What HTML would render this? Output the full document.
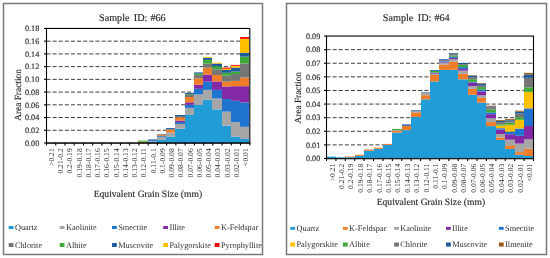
<!DOCTYPE html>
<html><head><meta charset="utf-8"><style>
html,body{margin:0;padding:0;background:#fff;}
body{width:550px;height:258px;overflow:hidden;}
svg{display:block;font-family:"Liberation Serif", serif;will-change:transform;text-rendering:geometricPrecision;}
svg text{fill:#2b2b2b;stroke:#2b2b2b;stroke-width:0.15px;}
svg text.lg{fill:#2e2e2e;stroke:none;}
</style></head><body>
<svg width="550" height="258" viewBox="0 0 550 258">
<rect width="550" height="258" fill="#fff"/>
<rect x="3.5" y="3.5" width="259" height="251" fill="#fff" stroke="#7a7a7a" stroke-width="1.5"/>
<text transform="translate(99.0,20.5)" font-size="10.2">Sample</text>
<text transform="translate(133.8,20.5)" font-size="10.2">ID:</text>
<text transform="translate(150.4,20.5)" font-size="10.2">#66</text>
<line x1="46.5" y1="130.27" x2="249.8" y2="130.27" stroke="#3c3c3c" stroke-width="1" stroke-dasharray="4 2.12"/>
<line x1="46.5" y1="117.54" x2="249.8" y2="117.54" stroke="#3c3c3c" stroke-width="1" stroke-dasharray="4 2.12"/>
<line x1="46.5" y1="104.82" x2="249.8" y2="104.82" stroke="#3c3c3c" stroke-width="1" stroke-dasharray="4 2.12"/>
<line x1="46.5" y1="92.09" x2="249.8" y2="92.09" stroke="#3c3c3c" stroke-width="1" stroke-dasharray="4 2.12"/>
<line x1="46.5" y1="79.36" x2="249.8" y2="79.36" stroke="#3c3c3c" stroke-width="1" stroke-dasharray="4 2.12"/>
<line x1="46.5" y1="66.63" x2="249.8" y2="66.63" stroke="#3c3c3c" stroke-width="1" stroke-dasharray="4 2.12"/>
<line x1="46.5" y1="53.91" x2="249.8" y2="53.91" stroke="#3c3c3c" stroke-width="1" stroke-dasharray="4 2.12"/>
<line x1="46.5" y1="41.18" x2="249.8" y2="41.18" stroke="#3c3c3c" stroke-width="1" stroke-dasharray="4 2.12"/>
<rect x="138" y="141.70" width="10" height="1.30" fill="#F07D2A"/>
<rect x="138" y="140.60" width="10" height="1.10" fill="#3DAA3A"/>
<rect x="148" y="142.00" width="9" height="1.00" fill="#229CD7"/>
<rect x="148" y="141.20" width="9" height="0.80" fill="#A6A6A6"/>
<rect x="148" y="140.20" width="9" height="1.00" fill="#1F74D0"/>
<rect x="148" y="139.40" width="9" height="0.80" fill="#1F5C9E"/>
<rect x="157" y="140.00" width="9" height="3.00" fill="#229CD7"/>
<rect x="157" y="136.80" width="9" height="3.20" fill="#A6A6A6"/>
<rect x="157" y="135.90" width="9" height="0.90" fill="#1F74D0"/>
<rect x="157" y="134.90" width="9" height="1.00" fill="#F07D2A"/>
<rect x="157" y="134.30" width="9" height="0.60" fill="#1F5C9E"/>
<rect x="166" y="136.80" width="9" height="6.20" fill="#229CD7"/>
<rect x="166" y="132.30" width="9" height="4.50" fill="#A6A6A6"/>
<rect x="166" y="129.70" width="9" height="2.60" fill="#F07D2A"/>
<rect x="166" y="129.00" width="9" height="0.70" fill="#767676"/>
<rect x="166" y="128.10" width="9" height="0.90" fill="#1F5C9E"/>
<rect x="175" y="128.70" width="10" height="14.30" fill="#229CD7"/>
<rect x="175" y="124.00" width="10" height="4.70" fill="#A6A6A6"/>
<rect x="175" y="122.10" width="10" height="1.90" fill="#1F74D0"/>
<rect x="175" y="120.60" width="10" height="1.50" fill="#8329A6"/>
<rect x="175" y="117.30" width="10" height="3.30" fill="#F07D2A"/>
<rect x="175" y="116.00" width="10" height="1.30" fill="#767676"/>
<rect x="175" y="115.00" width="10" height="1.00" fill="#1F5C9E"/>
<rect x="185" y="115.00" width="9" height="28.00" fill="#229CD7"/>
<rect x="185" y="107.90" width="9" height="7.10" fill="#A6A6A6"/>
<rect x="185" y="104.70" width="9" height="3.20" fill="#1F74D0"/>
<rect x="185" y="102.30" width="9" height="2.40" fill="#8329A6"/>
<rect x="185" y="97.00" width="9" height="5.30" fill="#F07D2A"/>
<rect x="185" y="94.90" width="9" height="2.10" fill="#767676"/>
<rect x="185" y="94.20" width="9" height="0.70" fill="#3DAA3A"/>
<rect x="185" y="92.90" width="9" height="1.30" fill="#1F5C9E"/>
<rect x="194" y="104.90" width="9" height="38.10" fill="#229CD7"/>
<rect x="194" y="94.50" width="9" height="10.40" fill="#A6A6A6"/>
<rect x="194" y="88.80" width="9" height="5.70" fill="#1F74D0"/>
<rect x="194" y="84.80" width="9" height="4.00" fill="#8329A6"/>
<rect x="194" y="78.30" width="9" height="6.50" fill="#F07D2A"/>
<rect x="194" y="75.10" width="9" height="3.20" fill="#767676"/>
<rect x="194" y="73.60" width="9" height="1.50" fill="#3DAA3A"/>
<rect x="194" y="72.40" width="9" height="1.20" fill="#1F5C9E"/>
<rect x="203" y="99.80" width="9" height="43.20" fill="#229CD7"/>
<rect x="203" y="89.90" width="9" height="9.90" fill="#A6A6A6"/>
<rect x="203" y="81.70" width="9" height="8.20" fill="#1F74D0"/>
<rect x="203" y="74.70" width="9" height="7.00" fill="#8329A6"/>
<rect x="203" y="67.70" width="9" height="7.00" fill="#F07D2A"/>
<rect x="203" y="63.60" width="9" height="4.10" fill="#767676"/>
<rect x="203" y="59.90" width="9" height="3.70" fill="#3DAA3A"/>
<rect x="203" y="57.80" width="9" height="2.10" fill="#1F5C9E"/>
<rect x="203" y="56.90" width="9" height="0.90" fill="#FFC000"/>
<rect x="212" y="109.40" width="10" height="33.60" fill="#229CD7"/>
<rect x="212" y="98.50" width="10" height="10.90" fill="#A6A6A6"/>
<rect x="212" y="89.90" width="10" height="8.60" fill="#1F74D0"/>
<rect x="212" y="81.40" width="10" height="8.50" fill="#8329A6"/>
<rect x="212" y="75.00" width="10" height="6.40" fill="#F07D2A"/>
<rect x="212" y="69.30" width="10" height="5.70" fill="#767676"/>
<rect x="212" y="66.30" width="10" height="3.00" fill="#3DAA3A"/>
<rect x="212" y="63.60" width="10" height="2.70" fill="#1F5C9E"/>
<rect x="212" y="62.70" width="10" height="0.90" fill="#FFC000"/>
<rect x="222" y="125.60" width="9" height="17.40" fill="#229CD7"/>
<rect x="222" y="111.60" width="9" height="14.00" fill="#A6A6A6"/>
<rect x="222" y="99.00" width="9" height="12.60" fill="#1F74D0"/>
<rect x="222" y="86.50" width="9" height="12.50" fill="#8329A6"/>
<rect x="222" y="81.60" width="9" height="4.90" fill="#F07D2A"/>
<rect x="222" y="75.70" width="9" height="5.90" fill="#767676"/>
<rect x="222" y="72.80" width="9" height="2.90" fill="#3DAA3A"/>
<rect x="222" y="69.90" width="9" height="2.90" fill="#1F5C9E"/>
<rect x="222" y="68.70" width="9" height="1.20" fill="#FFC000"/>
<rect x="222" y="67.60" width="9" height="1.10" fill="#FF0000"/>
<rect x="231" y="136.70" width="9" height="6.30" fill="#229CD7"/>
<rect x="231" y="122.10" width="9" height="14.60" fill="#A6A6A6"/>
<rect x="231" y="100.80" width="9" height="21.30" fill="#1F74D0"/>
<rect x="231" y="86.20" width="9" height="14.60" fill="#8329A6"/>
<rect x="231" y="80.90" width="9" height="5.30" fill="#F07D2A"/>
<rect x="231" y="74.00" width="9" height="6.90" fill="#767676"/>
<rect x="231" y="71.60" width="9" height="2.40" fill="#3DAA3A"/>
<rect x="231" y="67.60" width="9" height="4.00" fill="#1F5C9E"/>
<rect x="231" y="65.80" width="9" height="1.80" fill="#FFC000"/>
<rect x="231" y="64.90" width="9" height="0.90" fill="#FF0000"/>
<rect x="240" y="139.00" width="9" height="4.00" fill="#229CD7"/>
<rect x="240" y="126.80" width="9" height="12.20" fill="#A6A6A6"/>
<rect x="240" y="102.50" width="9" height="24.30" fill="#1F74D0"/>
<rect x="240" y="86.20" width="9" height="16.30" fill="#8329A6"/>
<rect x="240" y="77.60" width="9" height="8.60" fill="#F07D2A"/>
<rect x="240" y="63.40" width="9" height="14.20" fill="#767676"/>
<rect x="240" y="56.60" width="9" height="6.80" fill="#3DAA3A"/>
<rect x="240" y="52.80" width="9" height="3.80" fill="#1F5C9E"/>
<rect x="240" y="38.80" width="9" height="14.00" fill="#FFC000"/>
<rect x="240" y="37.00" width="9" height="1.80" fill="#FF0000"/>
<rect x="46.5" y="28.45" width="203.3" height="114.55" fill="none" stroke="#000" stroke-width="1.1"/>
<line x1="46.5" y1="143.1" x2="250.3" y2="143.1" stroke="#1c1c1c" stroke-width="1.4"/>
<line x1="44.0" y1="143.00" x2="46.5" y2="143.00" stroke="#000" stroke-width="1.1"/>
<text x="39.3" y="145.80" font-size="8.2" text-anchor="end" fill="#333">0.00</text>
<line x1="44.0" y1="130.27" x2="46.5" y2="130.27" stroke="#000" stroke-width="1.1"/>
<text x="39.3" y="133.07" font-size="8.2" text-anchor="end" fill="#333">0.02</text>
<line x1="44.0" y1="117.54" x2="46.5" y2="117.54" stroke="#000" stroke-width="1.1"/>
<text x="39.3" y="120.34" font-size="8.2" text-anchor="end" fill="#333">0.04</text>
<line x1="44.0" y1="104.82" x2="46.5" y2="104.82" stroke="#000" stroke-width="1.1"/>
<text x="39.3" y="107.62" font-size="8.2" text-anchor="end" fill="#333">0.06</text>
<line x1="44.0" y1="92.09" x2="46.5" y2="92.09" stroke="#000" stroke-width="1.1"/>
<text x="39.3" y="94.89" font-size="8.2" text-anchor="end" fill="#333">0.08</text>
<line x1="44.0" y1="79.36" x2="46.5" y2="79.36" stroke="#000" stroke-width="1.1"/>
<text x="39.3" y="82.16" font-size="8.2" text-anchor="end" fill="#333">0.10</text>
<line x1="44.0" y1="66.63" x2="46.5" y2="66.63" stroke="#000" stroke-width="1.1"/>
<text x="39.3" y="69.43" font-size="8.2" text-anchor="end" fill="#333">0.12</text>
<line x1="44.0" y1="53.91" x2="46.5" y2="53.91" stroke="#000" stroke-width="1.1"/>
<text x="39.3" y="56.71" font-size="8.2" text-anchor="end" fill="#333">0.14</text>
<line x1="44.0" y1="41.18" x2="46.5" y2="41.18" stroke="#000" stroke-width="1.1"/>
<text x="39.3" y="43.98" font-size="8.2" text-anchor="end" fill="#333">0.16</text>
<line x1="44.0" y1="28.45" x2="46.5" y2="28.45" stroke="#000" stroke-width="1.1"/>
<text x="39.3" y="31.25" font-size="8.2" text-anchor="end" fill="#333">0.18</text>
<line x1="46.50" y1="143" x2="46.50" y2="145.5" stroke="#000" stroke-width="1.1"/>
<line x1="55.74" y1="143" x2="55.74" y2="145.5" stroke="#000" stroke-width="1.1"/>
<line x1="64.98" y1="143" x2="64.98" y2="145.5" stroke="#000" stroke-width="1.1"/>
<line x1="74.22" y1="143" x2="74.22" y2="145.5" stroke="#000" stroke-width="1.1"/>
<line x1="83.46" y1="143" x2="83.46" y2="145.5" stroke="#000" stroke-width="1.1"/>
<line x1="92.70" y1="143" x2="92.70" y2="145.5" stroke="#000" stroke-width="1.1"/>
<line x1="101.95" y1="143" x2="101.95" y2="145.5" stroke="#000" stroke-width="1.1"/>
<line x1="111.19" y1="143" x2="111.19" y2="145.5" stroke="#000" stroke-width="1.1"/>
<line x1="120.43" y1="143" x2="120.43" y2="145.5" stroke="#000" stroke-width="1.1"/>
<line x1="129.67" y1="143" x2="129.67" y2="145.5" stroke="#000" stroke-width="1.1"/>
<line x1="138.91" y1="143" x2="138.91" y2="145.5" stroke="#000" stroke-width="1.1"/>
<line x1="148.15" y1="143" x2="148.15" y2="145.5" stroke="#000" stroke-width="1.1"/>
<line x1="157.39" y1="143" x2="157.39" y2="145.5" stroke="#000" stroke-width="1.1"/>
<line x1="166.63" y1="143" x2="166.63" y2="145.5" stroke="#000" stroke-width="1.1"/>
<line x1="175.87" y1="143" x2="175.87" y2="145.5" stroke="#000" stroke-width="1.1"/>
<line x1="185.11" y1="143" x2="185.11" y2="145.5" stroke="#000" stroke-width="1.1"/>
<line x1="194.35" y1="143" x2="194.35" y2="145.5" stroke="#000" stroke-width="1.1"/>
<line x1="203.60" y1="143" x2="203.60" y2="145.5" stroke="#000" stroke-width="1.1"/>
<line x1="212.84" y1="143" x2="212.84" y2="145.5" stroke="#000" stroke-width="1.1"/>
<line x1="222.08" y1="143" x2="222.08" y2="145.5" stroke="#000" stroke-width="1.1"/>
<line x1="231.32" y1="143" x2="231.32" y2="145.5" stroke="#000" stroke-width="1.1"/>
<line x1="240.56" y1="143" x2="240.56" y2="145.5" stroke="#000" stroke-width="1.1"/>
<line x1="249.80" y1="143" x2="249.80" y2="145.5" stroke="#000" stroke-width="1.1"/>
<text transform="translate(53.97,148.3) rotate(-90)" font-size="7.6" text-anchor="end" class="lg">&gt;0.21</text>
<text transform="translate(63.21,148.3) rotate(-90)" font-size="7.6" text-anchor="end" class="lg">0.21-0.2</text>
<text transform="translate(72.45,148.3) rotate(-90)" font-size="7.6" text-anchor="end" class="lg">0.2-0.19</text>
<text transform="translate(81.69,148.3) rotate(-90)" font-size="7.6" text-anchor="end" class="lg">0.19-0.18</text>
<text transform="translate(90.93,148.3) rotate(-90)" font-size="7.6" text-anchor="end" class="lg">0.18-0.17</text>
<text transform="translate(100.17,148.3) rotate(-90)" font-size="7.6" text-anchor="end" class="lg">0.17-0.16</text>
<text transform="translate(109.42,148.3) rotate(-90)" font-size="7.6" text-anchor="end" class="lg">0.16-0.15</text>
<text transform="translate(118.66,148.3) rotate(-90)" font-size="7.6" text-anchor="end" class="lg">0.15-0.14</text>
<text transform="translate(127.90,148.3) rotate(-90)" font-size="7.6" text-anchor="end" class="lg">0.14-0.13</text>
<text transform="translate(137.14,148.3) rotate(-90)" font-size="7.6" text-anchor="end" class="lg">0.13-0.12</text>
<text transform="translate(146.38,148.3) rotate(-90)" font-size="7.6" text-anchor="end" class="lg">0.12-0.11</text>
<text transform="translate(155.62,148.3) rotate(-90)" font-size="7.6" text-anchor="end" class="lg">0.11-0.1</text>
<text transform="translate(164.86,148.3) rotate(-90)" font-size="7.6" text-anchor="end" class="lg">0.1-0.09</text>
<text transform="translate(174.10,148.3) rotate(-90)" font-size="7.6" text-anchor="end" class="lg">0.09-0.08</text>
<text transform="translate(183.34,148.3) rotate(-90)" font-size="7.6" text-anchor="end" class="lg">0.08-0.07</text>
<text transform="translate(192.58,148.3) rotate(-90)" font-size="7.6" text-anchor="end" class="lg">0.07-0.06</text>
<text transform="translate(201.83,148.3) rotate(-90)" font-size="7.6" text-anchor="end" class="lg">0.06-0.05</text>
<text transform="translate(211.07,148.3) rotate(-90)" font-size="7.6" text-anchor="end" class="lg">0.05-0.04</text>
<text transform="translate(220.31,148.3) rotate(-90)" font-size="7.6" text-anchor="end" class="lg">0.04-0.03</text>
<text transform="translate(229.55,148.3) rotate(-90)" font-size="7.6" text-anchor="end" class="lg">0.03-0.02</text>
<text transform="translate(238.79,148.3) rotate(-90)" font-size="7.6" text-anchor="end" class="lg">0.02-0.01</text>
<text transform="translate(248.03,148.3) rotate(-90)" font-size="7.6" text-anchor="end" class="lg">&lt;0.01</text>
<text transform="translate(20.8,95) rotate(-90)" font-size="9.35" text-anchor="middle">Area Fraction</text>
<text x="147.9" y="196.6" font-size="9.6" text-anchor="middle">Equivalent Grain Size (mm)</text>
<rect x="8.70" y="226.00" width="4.8" height="3.0" fill="#229CD7"/>
<text class="lg" x="14.90" y="229.70" font-size="8.3">Quartz</text>
<rect x="59.70" y="226.00" width="4.8" height="3.0" fill="#A6A6A6"/>
<text class="lg" x="65.90" y="229.70" font-size="8.3">Kaolinite</text>
<rect x="112.00" y="226.00" width="4.8" height="3.0" fill="#1F74D0"/>
<text class="lg" x="118.20" y="229.70" font-size="8.3">Smectite</text>
<rect x="163.20" y="226.00" width="4.8" height="3.0" fill="#8329A6"/>
<text class="lg" x="169.40" y="229.70" font-size="8.3">Illite</text>
<rect x="214.70" y="226.00" width="4.8" height="3.0" fill="#F07D2A"/>
<text class="lg" x="220.90" y="229.70" font-size="8.3">K-Feldspar</text>
<rect x="8.70" y="243.00" width="4.8" height="4.0" fill="#767676"/>
<text class="lg" x="14.90" y="247.80" font-size="8.3">Chlorite</text>
<rect x="59.70" y="243.00" width="4.8" height="4.0" fill="#3DAA3A"/>
<text class="lg" x="65.90" y="247.80" font-size="8.3">Albite</text>
<rect x="112.00" y="243.00" width="4.8" height="4.0" fill="#1F5C9E"/>
<text class="lg" x="118.20" y="247.80" font-size="8.3">Muscovite</text>
<rect x="163.20" y="243.00" width="4.8" height="4.0" fill="#FFC000"/>
<text class="lg" x="169.40" y="247.80" font-size="8.3">Palygorskite</text>
<rect x="214.70" y="243.00" width="4.8" height="4.0" fill="#FF0000"/>
<text class="lg" x="220.90" y="247.80" font-size="8.3">Pyrophyllite</text>
<rect x="286.5" y="3.5" width="260" height="251" fill="#fff" stroke="#7a7a7a" stroke-width="1.5"/>
<text transform="translate(382.8,20.5)" font-size="10.2">Sample</text>
<text transform="translate(417.8,20.5)" font-size="10.2">ID:</text>
<text transform="translate(434.4,20.5)" font-size="10.2">#64</text>
<line x1="326.5" y1="144.89" x2="533.5" y2="144.89" stroke="#3c3c3c" stroke-width="1" stroke-dasharray="4 2.12"/>
<line x1="326.5" y1="131.29" x2="533.5" y2="131.29" stroke="#3c3c3c" stroke-width="1" stroke-dasharray="4 2.12"/>
<line x1="326.5" y1="117.68" x2="533.5" y2="117.68" stroke="#3c3c3c" stroke-width="1" stroke-dasharray="4 2.12"/>
<line x1="326.5" y1="104.08" x2="533.5" y2="104.08" stroke="#3c3c3c" stroke-width="1" stroke-dasharray="4 2.12"/>
<line x1="326.5" y1="90.47" x2="533.5" y2="90.47" stroke="#3c3c3c" stroke-width="1" stroke-dasharray="4 2.12"/>
<line x1="326.5" y1="76.87" x2="533.5" y2="76.87" stroke="#3c3c3c" stroke-width="1" stroke-dasharray="4 2.12"/>
<line x1="326.5" y1="63.26" x2="533.5" y2="63.26" stroke="#3c3c3c" stroke-width="1" stroke-dasharray="4 2.12"/>
<line x1="326.5" y1="49.66" x2="533.5" y2="49.66" stroke="#3c3c3c" stroke-width="1" stroke-dasharray="4 2.12"/>
<rect x="326" y="156.60" width="10" height="1.90" fill="#229CD7"/>
<rect x="336" y="157.30" width="9" height="1.20" fill="#229CD7"/>
<rect x="345" y="157.20" width="10" height="1.30" fill="#229CD7"/>
<rect x="345" y="156.50" width="10" height="0.70" fill="#F07D2A"/>
<rect x="355" y="155.90" width="9" height="2.60" fill="#229CD7"/>
<rect x="355" y="154.80" width="9" height="1.10" fill="#F07D2A"/>
<rect x="364" y="150.80" width="10" height="7.70" fill="#229CD7"/>
<rect x="364" y="149.60" width="10" height="1.20" fill="#F07D2A"/>
<rect x="364" y="149.10" width="10" height="0.50" fill="#A6A6A6"/>
<rect x="374" y="148.80" width="9" height="9.70" fill="#229CD7"/>
<rect x="374" y="147.60" width="9" height="1.20" fill="#F07D2A"/>
<rect x="383" y="144.90" width="9" height="13.60" fill="#229CD7"/>
<rect x="383" y="143.90" width="9" height="1.00" fill="#F07D2A"/>
<rect x="392" y="132.60" width="10" height="25.90" fill="#229CD7"/>
<rect x="392" y="130.90" width="10" height="1.70" fill="#F07D2A"/>
<rect x="392" y="130.10" width="10" height="0.80" fill="#A6A6A6"/>
<rect x="392" y="128.90" width="10" height="1.20" fill="#3DAA3A"/>
<rect x="402" y="130.10" width="9" height="28.40" fill="#229CD7"/>
<rect x="402" y="125.80" width="9" height="4.30" fill="#F07D2A"/>
<rect x="402" y="124.40" width="9" height="1.40" fill="#1F5C9E"/>
<rect x="411" y="117.00" width="10" height="41.50" fill="#229CD7"/>
<rect x="411" y="112.30" width="10" height="4.70" fill="#F07D2A"/>
<rect x="411" y="111.20" width="10" height="1.10" fill="#A6A6A6"/>
<rect x="411" y="110.30" width="10" height="0.90" fill="#1F5C9E"/>
<rect x="421" y="99.30" width="9" height="59.20" fill="#229CD7"/>
<rect x="421" y="95.20" width="9" height="4.10" fill="#F07D2A"/>
<rect x="421" y="92.90" width="9" height="2.30" fill="#A6A6A6"/>
<rect x="421" y="92.30" width="9" height="0.60" fill="#1F5C9E"/>
<rect x="430" y="81.40" width="9" height="77.10" fill="#229CD7"/>
<rect x="430" y="74.90" width="9" height="6.50" fill="#F07D2A"/>
<rect x="430" y="73.70" width="9" height="1.20" fill="#A6A6A6"/>
<rect x="430" y="72.90" width="9" height="0.80" fill="#8329A6"/>
<rect x="430" y="72.50" width="9" height="0.40" fill="#1F74D0"/>
<rect x="430" y="70.80" width="9" height="1.70" fill="#3DAA3A"/>
<rect x="430" y="70.00" width="9" height="0.80" fill="#1F5C9E"/>
<rect x="439" y="69.90" width="10" height="88.60" fill="#229CD7"/>
<rect x="439" y="64.50" width="10" height="5.40" fill="#F07D2A"/>
<rect x="439" y="62.50" width="10" height="2.00" fill="#A6A6A6"/>
<rect x="439" y="61.60" width="10" height="0.90" fill="#8329A6"/>
<rect x="439" y="60.80" width="10" height="0.80" fill="#1F74D0"/>
<rect x="439" y="59.80" width="10" height="1.00" fill="#767676"/>
<rect x="439" y="59.00" width="10" height="0.80" fill="#1F5C9E"/>
<rect x="449" y="69.80" width="9" height="88.70" fill="#229CD7"/>
<rect x="449" y="61.60" width="9" height="8.20" fill="#F07D2A"/>
<rect x="449" y="59.10" width="9" height="2.50" fill="#A6A6A6"/>
<rect x="449" y="57.80" width="9" height="1.30" fill="#8329A6"/>
<rect x="449" y="56.80" width="9" height="1.00" fill="#1F74D0"/>
<rect x="449" y="55.40" width="9" height="1.40" fill="#3DAA3A"/>
<rect x="449" y="54.10" width="9" height="1.30" fill="#767676"/>
<rect x="449" y="53.20" width="9" height="0.90" fill="#1F5C9E"/>
<rect x="458" y="79.30" width="10" height="79.20" fill="#229CD7"/>
<rect x="458" y="73.90" width="10" height="5.40" fill="#F07D2A"/>
<rect x="458" y="70.60" width="10" height="3.30" fill="#A6A6A6"/>
<rect x="458" y="68.90" width="10" height="1.70" fill="#8329A6"/>
<rect x="458" y="67.10" width="10" height="1.80" fill="#1F74D0"/>
<rect x="458" y="65.00" width="10" height="2.10" fill="#3DAA3A"/>
<rect x="458" y="64.20" width="10" height="0.80" fill="#767676"/>
<rect x="458" y="63.00" width="10" height="1.20" fill="#1F5C9E"/>
<rect x="468" y="94.70" width="9" height="63.80" fill="#229CD7"/>
<rect x="468" y="88.90" width="9" height="5.80" fill="#F07D2A"/>
<rect x="468" y="86.00" width="9" height="2.90" fill="#A6A6A6"/>
<rect x="468" y="82.70" width="9" height="3.30" fill="#8329A6"/>
<rect x="468" y="81.90" width="9" height="0.80" fill="#1F74D0"/>
<rect x="468" y="79.20" width="9" height="2.70" fill="#3DAA3A"/>
<rect x="468" y="77.20" width="9" height="2.00" fill="#767676"/>
<rect x="468" y="75.80" width="9" height="1.40" fill="#1F5C9E"/>
<rect x="468" y="75.30" width="9" height="0.50" fill="#9E5A17"/>
<rect x="477" y="102.60" width="9" height="55.90" fill="#229CD7"/>
<rect x="477" y="97.90" width="9" height="4.70" fill="#F07D2A"/>
<rect x="477" y="95.30" width="9" height="2.60" fill="#A6A6A6"/>
<rect x="477" y="91.50" width="9" height="3.80" fill="#8329A6"/>
<rect x="477" y="89.70" width="9" height="1.80" fill="#1F74D0"/>
<rect x="477" y="87.10" width="9" height="2.60" fill="#3DAA3A"/>
<rect x="477" y="85.70" width="9" height="1.40" fill="#767676"/>
<rect x="477" y="83.60" width="9" height="2.10" fill="#1F5C9E"/>
<rect x="477" y="83.00" width="9" height="0.60" fill="#9E5A17"/>
<rect x="486" y="126.10" width="10" height="32.40" fill="#229CD7"/>
<rect x="486" y="122.10" width="10" height="4.00" fill="#F07D2A"/>
<rect x="486" y="118.30" width="10" height="3.80" fill="#A6A6A6"/>
<rect x="486" y="114.20" width="10" height="4.10" fill="#8329A6"/>
<rect x="486" y="112.40" width="10" height="1.80" fill="#1F74D0"/>
<rect x="486" y="109.50" width="10" height="2.90" fill="#3DAA3A"/>
<rect x="486" y="107.20" width="10" height="2.30" fill="#767676"/>
<rect x="486" y="106.40" width="10" height="0.80" fill="#1F5C9E"/>
<rect x="486" y="105.70" width="10" height="0.70" fill="#9E5A17"/>
<rect x="496" y="139.90" width="9" height="18.60" fill="#229CD7"/>
<rect x="496" y="137.40" width="9" height="2.50" fill="#F07D2A"/>
<rect x="496" y="134.00" width="9" height="3.40" fill="#A6A6A6"/>
<rect x="496" y="129.60" width="9" height="4.40" fill="#8329A6"/>
<rect x="496" y="128.20" width="9" height="1.40" fill="#1F74D0"/>
<rect x="496" y="125.60" width="9" height="2.60" fill="#FFC000"/>
<rect x="496" y="124.40" width="9" height="1.20" fill="#3DAA3A"/>
<rect x="496" y="122.10" width="9" height="2.30" fill="#767676"/>
<rect x="496" y="120.90" width="9" height="1.20" fill="#1F5C9E"/>
<rect x="496" y="120.10" width="9" height="0.80" fill="#9E5A17"/>
<rect x="505" y="148.90" width="10" height="9.60" fill="#229CD7"/>
<rect x="505" y="145.40" width="10" height="3.50" fill="#F07D2A"/>
<rect x="505" y="139.70" width="10" height="5.70" fill="#A6A6A6"/>
<rect x="505" y="134.20" width="10" height="5.50" fill="#8329A6"/>
<rect x="505" y="131.60" width="10" height="2.60" fill="#1F74D0"/>
<rect x="505" y="124.70" width="10" height="6.90" fill="#FFC000"/>
<rect x="505" y="122.60" width="10" height="2.10" fill="#3DAA3A"/>
<rect x="505" y="120.70" width="10" height="1.90" fill="#767676"/>
<rect x="505" y="119.80" width="10" height="0.90" fill="#1F5C9E"/>
<rect x="505" y="118.90" width="10" height="0.90" fill="#9E5A17"/>
<rect x="515" y="154.80" width="9" height="3.70" fill="#229CD7"/>
<rect x="515" y="152.10" width="9" height="2.70" fill="#F07D2A"/>
<rect x="515" y="143.60" width="9" height="8.50" fill="#A6A6A6"/>
<rect x="515" y="135.80" width="9" height="7.80" fill="#8329A6"/>
<rect x="515" y="128.50" width="9" height="7.30" fill="#1F74D0"/>
<rect x="515" y="119.80" width="9" height="8.70" fill="#FFC000"/>
<rect x="515" y="117.30" width="9" height="2.50" fill="#3DAA3A"/>
<rect x="515" y="113.60" width="9" height="3.70" fill="#767676"/>
<rect x="515" y="111.70" width="9" height="1.90" fill="#1F5C9E"/>
<rect x="515" y="110.70" width="9" height="1.00" fill="#9E5A17"/>
<rect x="524" y="156.00" width="10" height="2.50" fill="#229CD7"/>
<rect x="524" y="148.60" width="10" height="7.40" fill="#F07D2A"/>
<rect x="524" y="139.30" width="10" height="9.30" fill="#A6A6A6"/>
<rect x="524" y="126.00" width="10" height="13.30" fill="#8329A6"/>
<rect x="524" y="108.40" width="10" height="17.60" fill="#1F74D0"/>
<rect x="524" y="91.90" width="10" height="16.50" fill="#FFC000"/>
<rect x="524" y="87.30" width="10" height="4.60" fill="#3DAA3A"/>
<rect x="524" y="77.80" width="10" height="9.50" fill="#767676"/>
<rect x="524" y="74.50" width="10" height="3.30" fill="#1F5C9E"/>
<rect x="524" y="72.90" width="10" height="1.60" fill="#9E5A17"/>
<rect x="326.5" y="36.05" width="207.0" height="122.45" fill="none" stroke="#000" stroke-width="1.1"/>
<line x1="326.5" y1="158.6" x2="534.0" y2="158.6" stroke="#1c1c1c" stroke-width="1.4"/>
<line x1="324.0" y1="158.50" x2="326.5" y2="158.50" stroke="#000" stroke-width="1.1"/>
<text x="320.3" y="161.30" font-size="8.2" text-anchor="end" fill="#333">0.00</text>
<line x1="324.0" y1="144.89" x2="326.5" y2="144.89" stroke="#000" stroke-width="1.1"/>
<text x="320.3" y="147.69" font-size="8.2" text-anchor="end" fill="#333">0.01</text>
<line x1="324.0" y1="131.29" x2="326.5" y2="131.29" stroke="#000" stroke-width="1.1"/>
<text x="320.3" y="134.09" font-size="8.2" text-anchor="end" fill="#333">0.02</text>
<line x1="324.0" y1="117.68" x2="326.5" y2="117.68" stroke="#000" stroke-width="1.1"/>
<text x="320.3" y="120.48" font-size="8.2" text-anchor="end" fill="#333">0.03</text>
<line x1="324.0" y1="104.08" x2="326.5" y2="104.08" stroke="#000" stroke-width="1.1"/>
<text x="320.3" y="106.88" font-size="8.2" text-anchor="end" fill="#333">0.04</text>
<line x1="324.0" y1="90.47" x2="326.5" y2="90.47" stroke="#000" stroke-width="1.1"/>
<text x="320.3" y="93.27" font-size="8.2" text-anchor="end" fill="#333">0.05</text>
<line x1="324.0" y1="76.87" x2="326.5" y2="76.87" stroke="#000" stroke-width="1.1"/>
<text x="320.3" y="79.67" font-size="8.2" text-anchor="end" fill="#333">0.06</text>
<line x1="324.0" y1="63.26" x2="326.5" y2="63.26" stroke="#000" stroke-width="1.1"/>
<text x="320.3" y="66.06" font-size="8.2" text-anchor="end" fill="#333">0.07</text>
<line x1="324.0" y1="49.66" x2="326.5" y2="49.66" stroke="#000" stroke-width="1.1"/>
<text x="320.3" y="52.46" font-size="8.2" text-anchor="end" fill="#333">0.08</text>
<line x1="324.0" y1="36.05" x2="326.5" y2="36.05" stroke="#000" stroke-width="1.1"/>
<text x="320.3" y="38.85" font-size="8.2" text-anchor="end" fill="#333">0.09</text>
<line x1="326.50" y1="158.5" x2="326.50" y2="161.0" stroke="#000" stroke-width="1.1"/>
<line x1="335.91" y1="158.5" x2="335.91" y2="161.0" stroke="#000" stroke-width="1.1"/>
<line x1="345.32" y1="158.5" x2="345.32" y2="161.0" stroke="#000" stroke-width="1.1"/>
<line x1="354.73" y1="158.5" x2="354.73" y2="161.0" stroke="#000" stroke-width="1.1"/>
<line x1="364.14" y1="158.5" x2="364.14" y2="161.0" stroke="#000" stroke-width="1.1"/>
<line x1="373.55" y1="158.5" x2="373.55" y2="161.0" stroke="#000" stroke-width="1.1"/>
<line x1="382.95" y1="158.5" x2="382.95" y2="161.0" stroke="#000" stroke-width="1.1"/>
<line x1="392.36" y1="158.5" x2="392.36" y2="161.0" stroke="#000" stroke-width="1.1"/>
<line x1="401.77" y1="158.5" x2="401.77" y2="161.0" stroke="#000" stroke-width="1.1"/>
<line x1="411.18" y1="158.5" x2="411.18" y2="161.0" stroke="#000" stroke-width="1.1"/>
<line x1="420.59" y1="158.5" x2="420.59" y2="161.0" stroke="#000" stroke-width="1.1"/>
<line x1="430.00" y1="158.5" x2="430.00" y2="161.0" stroke="#000" stroke-width="1.1"/>
<line x1="439.41" y1="158.5" x2="439.41" y2="161.0" stroke="#000" stroke-width="1.1"/>
<line x1="448.82" y1="158.5" x2="448.82" y2="161.0" stroke="#000" stroke-width="1.1"/>
<line x1="458.23" y1="158.5" x2="458.23" y2="161.0" stroke="#000" stroke-width="1.1"/>
<line x1="467.64" y1="158.5" x2="467.64" y2="161.0" stroke="#000" stroke-width="1.1"/>
<line x1="477.05" y1="158.5" x2="477.05" y2="161.0" stroke="#000" stroke-width="1.1"/>
<line x1="486.45" y1="158.5" x2="486.45" y2="161.0" stroke="#000" stroke-width="1.1"/>
<line x1="495.86" y1="158.5" x2="495.86" y2="161.0" stroke="#000" stroke-width="1.1"/>
<line x1="505.27" y1="158.5" x2="505.27" y2="161.0" stroke="#000" stroke-width="1.1"/>
<line x1="514.68" y1="158.5" x2="514.68" y2="161.0" stroke="#000" stroke-width="1.1"/>
<line x1="524.09" y1="158.5" x2="524.09" y2="161.0" stroke="#000" stroke-width="1.1"/>
<line x1="533.50" y1="158.5" x2="533.50" y2="161.0" stroke="#000" stroke-width="1.1"/>
<text transform="translate(334.50,163.6) rotate(-90)" font-size="7.6" text-anchor="end" class="lg">&gt;0.21</text>
<text transform="translate(343.91,163.6) rotate(-90)" font-size="7.6" text-anchor="end" class="lg">0.21-0.2</text>
<text transform="translate(353.32,163.6) rotate(-90)" font-size="7.6" text-anchor="end" class="lg">0.2-0.19</text>
<text transform="translate(362.73,163.6) rotate(-90)" font-size="7.6" text-anchor="end" class="lg">0.19-0.18</text>
<text transform="translate(372.14,163.6) rotate(-90)" font-size="7.6" text-anchor="end" class="lg">0.18-0.17</text>
<text transform="translate(381.55,163.6) rotate(-90)" font-size="7.6" text-anchor="end" class="lg">0.17-0.16</text>
<text transform="translate(390.96,163.6) rotate(-90)" font-size="7.6" text-anchor="end" class="lg">0.16-0.15</text>
<text transform="translate(400.37,163.6) rotate(-90)" font-size="7.6" text-anchor="end" class="lg">0.15-0.14</text>
<text transform="translate(409.78,163.6) rotate(-90)" font-size="7.6" text-anchor="end" class="lg">0.14-0.13</text>
<text transform="translate(419.19,163.6) rotate(-90)" font-size="7.6" text-anchor="end" class="lg">0.13-0.12</text>
<text transform="translate(428.60,163.6) rotate(-90)" font-size="7.6" text-anchor="end" class="lg">0.12-0.11</text>
<text transform="translate(438.00,163.6) rotate(-90)" font-size="7.6" text-anchor="end" class="lg">0.11-0.1</text>
<text transform="translate(447.41,163.6) rotate(-90)" font-size="7.6" text-anchor="end" class="lg">0.1-0.09</text>
<text transform="translate(456.82,163.6) rotate(-90)" font-size="7.6" text-anchor="end" class="lg">0.09-0.08</text>
<text transform="translate(466.23,163.6) rotate(-90)" font-size="7.6" text-anchor="end" class="lg">0.08-0.07</text>
<text transform="translate(475.64,163.6) rotate(-90)" font-size="7.6" text-anchor="end" class="lg">0.07-0.06</text>
<text transform="translate(485.05,163.6) rotate(-90)" font-size="7.6" text-anchor="end" class="lg">0.06-0.05</text>
<text transform="translate(494.46,163.6) rotate(-90)" font-size="7.6" text-anchor="end" class="lg">0.05-0.04</text>
<text transform="translate(503.87,163.6) rotate(-90)" font-size="7.6" text-anchor="end" class="lg">0.04-0.03</text>
<text transform="translate(513.28,163.6) rotate(-90)" font-size="7.6" text-anchor="end" class="lg">0.03-0.02</text>
<text transform="translate(522.69,163.6) rotate(-90)" font-size="7.6" text-anchor="end" class="lg">0.02-0.01</text>
<text transform="translate(532.10,163.6) rotate(-90)" font-size="7.6" text-anchor="end" class="lg">&lt;0.01</text>
<text transform="translate(300.5,97.8) rotate(-90)" font-size="9.35" text-anchor="middle">Area Fraction</text>
<text x="430.9" y="204.9" font-size="9.6" text-anchor="middle">Equivalent Grain Size (mm)</text>
<rect x="290.30" y="226.90" width="4.8" height="2.9" fill="#229CD7"/>
<text class="lg" x="296.50" y="230.90" font-size="8.3">Quartz</text>
<rect x="342.90" y="226.90" width="4.8" height="2.9" fill="#F07D2A"/>
<text class="lg" x="349.10" y="230.90" font-size="8.3">K-Feldspar</text>
<rect x="394.10" y="226.90" width="4.8" height="2.9" fill="#A6A6A6"/>
<text class="lg" x="400.30" y="230.90" font-size="8.3">Kaolinite</text>
<rect x="446.00" y="226.90" width="4.8" height="2.9" fill="#8329A6"/>
<text class="lg" x="452.20" y="230.90" font-size="8.3">Illite</text>
<rect x="498.90" y="226.90" width="4.8" height="2.9" fill="#1F74D0"/>
<text class="lg" x="505.10" y="230.90" font-size="8.3">Smectite</text>
<rect x="290.30" y="242.50" width="4.8" height="4.1" fill="#FFC000"/>
<text class="lg" x="296.50" y="246.90" font-size="8.3">Palygorskite</text>
<rect x="342.90" y="242.50" width="4.8" height="4.1" fill="#3DAA3A"/>
<text class="lg" x="349.10" y="246.90" font-size="8.3">Albite</text>
<rect x="394.10" y="242.50" width="4.8" height="4.1" fill="#767676"/>
<text class="lg" x="400.30" y="246.90" font-size="8.3">Chlorite</text>
<rect x="446.00" y="242.50" width="4.8" height="4.1" fill="#1F5C9E"/>
<text class="lg" x="452.20" y="246.90" font-size="8.3">Muscovite</text>
<rect x="498.90" y="242.50" width="4.8" height="4.1" fill="#9E5A17"/>
<text class="lg" x="505.10" y="246.90" font-size="8.3">Ilmenite</text>
</svg>
</body></html>
